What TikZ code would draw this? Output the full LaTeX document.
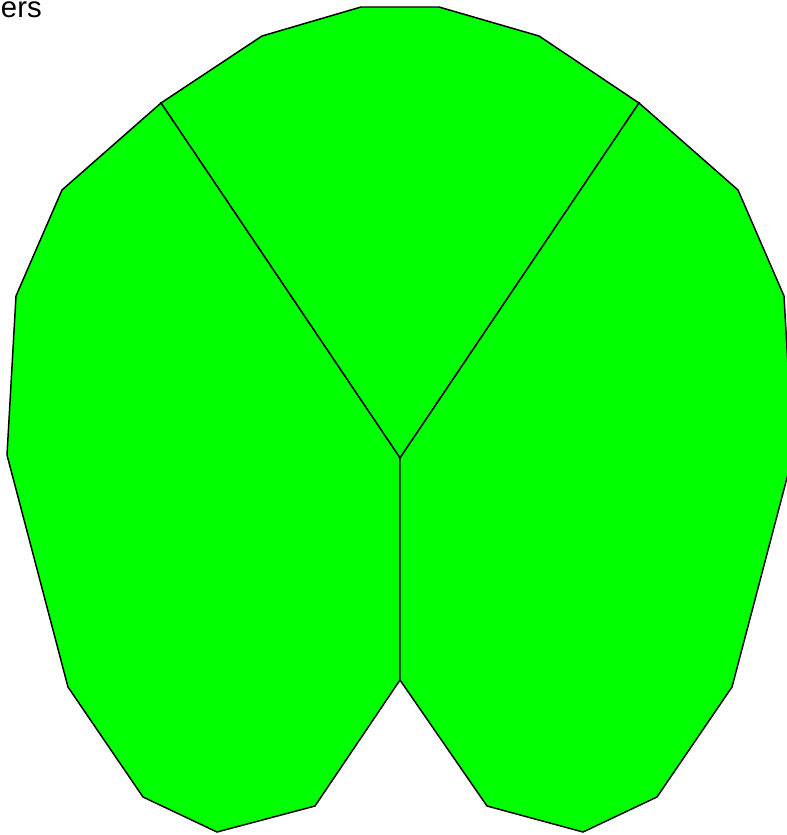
\documentclass[tikz,border=0pt]{standalone}
\usepackage{fontspec}
\setmainfont{Liberation Sans}
\definecolor{leafgreen}{RGB}{0,255,0}
\begin{document}
\begin{tikzpicture}[x=0.75pt,y=-0.75pt,
  region/.style={fill=leafgreen,draw=black,line width=1.1pt,line join=miter},
  lbl/.style={font=\fontsize{22}{26}\selectfont,inner sep=0pt,anchor=base east}]
\useasboundingbox (0,0) rectangle (787,835);
\clip (0,0) rectangle (787,835);
% shared points
\coordinate (tl) at (161,103);
\coordinate (tr) at (639,103);
\coordinate (c) at (400,458);
\coordinate (n) at (400,680);
% top region
\path[region] (tl) -- (262,36) -- (361,7) -- (439,7) -- (539,36) -- (tr) -- (c) -- cycle;
% left region
\path[region] (tl) -- (62,190) -- (16,296) -- (7,455) -- (68,687) -- (143,797) -- (217,832) -- (315,806) -- (n) -- (c) -- cycle;
% right region
\path[region] (tr) -- (738,190) -- (784,296) -- (793,455) -- (732,687) -- (657,797) -- (583,832) -- (487,806) -- (n) -- (c) -- cycle;
\node[lbl] (t) at (42,17) {ers};
\end{tikzpicture}
\end{document}
